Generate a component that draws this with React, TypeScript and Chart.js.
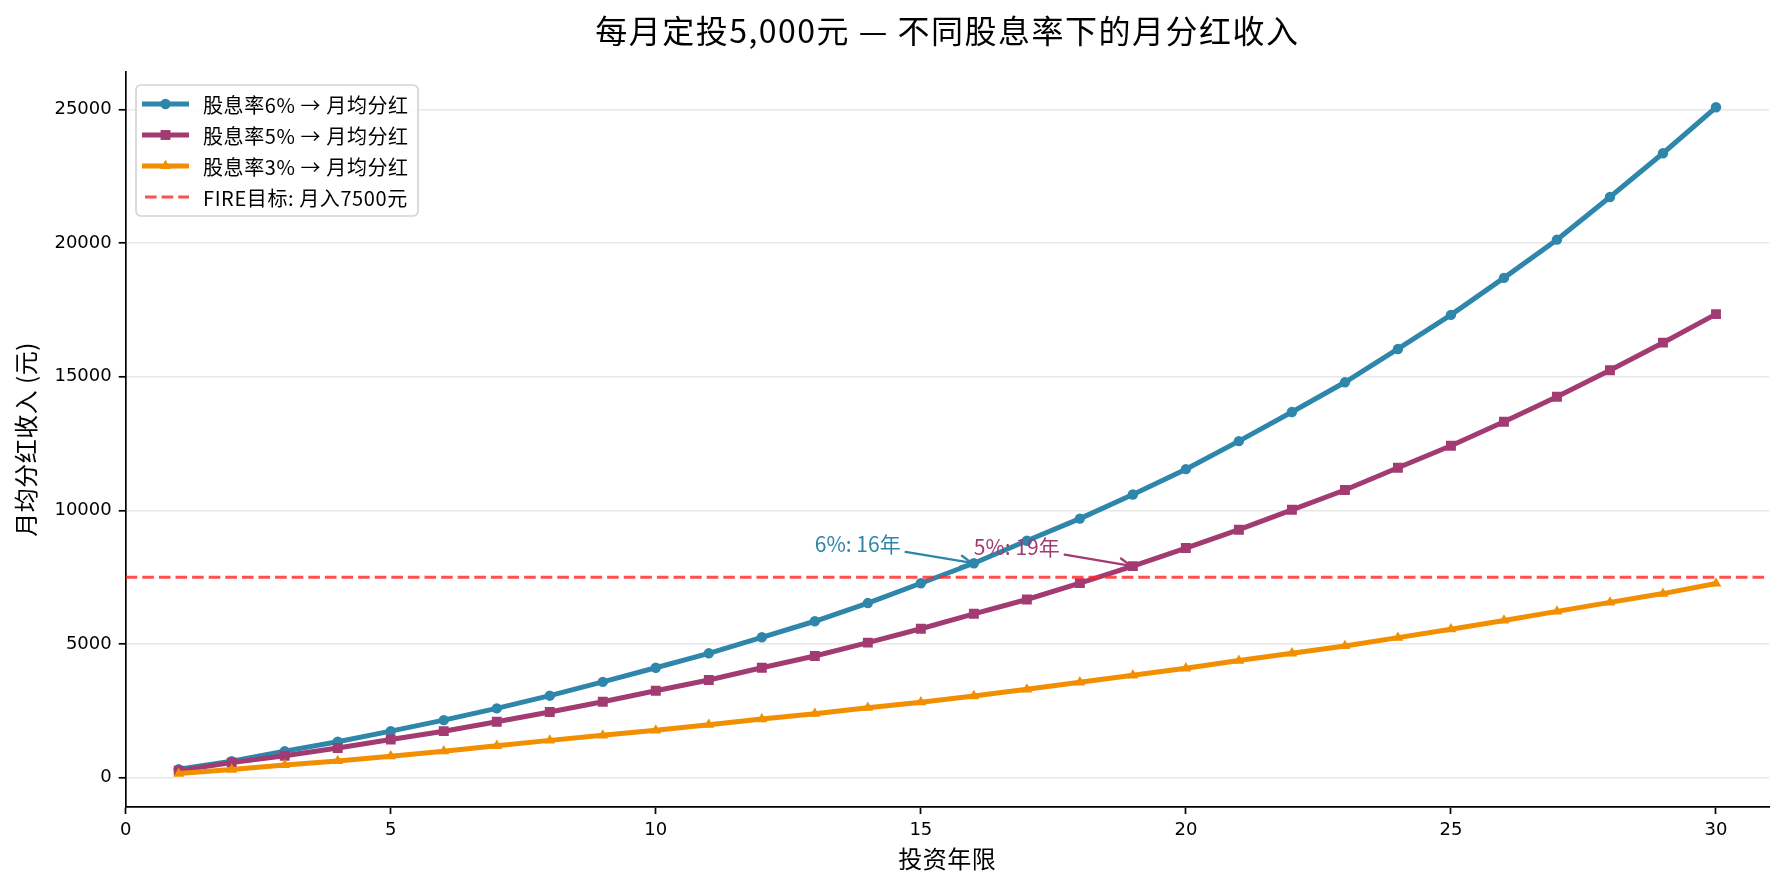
import React, { useEffect, useRef } from "react";
import { Chart, registerables } from "chart.js";

Chart.register(...registerables);

// ---------------- data ----------------
const years = [1, 2, 3, 4, 5, 6, 7, 8, 9, 10, 11, 12, 13, 14, 15, 16, 17, 18, 19, 20, 21, 22, 23, 24, 25, 26, 27, 28, 29, 30];
const div6 = [310, 615, 990, 1340, 1740, 2150, 2590, 3065, 3580, 4110, 4650, 5250, 5850, 6530, 7272, 8018, 8860, 9690, 10592, 11540, 12590, 13680, 14790, 16037, 17311, 18697, 20127, 21723, 23360, 25080];
const div5 = [260, 560, 815, 1110, 1425, 1737, 2088, 2453, 2838, 3250, 3651, 4112, 4551, 5050, 5569, 6128, 6664, 7275, 7913, 8588, 9276, 10020, 10760, 11592, 12416, 13315, 14251, 15240, 16273, 17341];
const div3 = [150, 300, 473, 623, 799, 986, 1190, 1393, 1581, 1768, 1978, 2191, 2390, 2614, 2820, 3051, 3302, 3565, 3827, 4089, 4378, 4650, 4925, 5238, 5551, 5879, 6218, 6557, 6885, 7262];
const fireTarget = 7500;
const seriesLabels = ["股息率6% → 月均分红", "股息率5% → 月均分红", "股息率3% → 月均分红"];
const fireLabel = "FIRE目标: 月入7500元";
const xTicks = [0, 5, 10, 15, 20, 25, 30];
const yTicks = [0, 5000, 10000, 15000, 20000, 25000];
const annotationYears = [16, 19];
const annotationTexts = ["6%: 16年", "5%: 19年"];
const titleText = "每月定投5,000元 — 不同股息率下的月分红收入";
const xLabel = "投资年限";
const yLabel = "月均分红收入 (元)";

// ---------------- styles ----------------
const W = 1784;
const H = 886;
const COLORS = ["#2E86AB", "#A23B72", "#F18F01"];
const FIRE_COLOR = "rgba(255,40,40,0.82)";
const CJK = '"Noto Sans CJK SC", "Noto Sans", sans-serif';
const TICKF = '"DejaVu Sans", sans-serif';
const POINT_STYLES = ["circle", "rect", "triangle"];
const POINT_R = [5.2, 7, 6.2];

function drawMarker(ctx, style, x, y, r, color) {
  ctx.save();
  ctx.fillStyle = color;
  ctx.beginPath();
  if (style === "circle") {
    ctx.arc(x, y, r, 0, Math.PI * 2);
  } else if (style === "rect") {
    const s = r * Math.SQRT1_2;
    ctx.rect(x - s, y - s, 2 * s, 2 * s);
  } else {
    for (let i = 0; i < 3; i++) {
      const a = (i * 2 * Math.PI) / 3;
      const px = x + Math.sin(a) * r;
      const py = y - Math.cos(a) * r;
      if (i === 0) ctx.moveTo(px, py);
      else ctx.lineTo(px, py);
    }
    ctx.closePath();
  }
  ctx.fill();
  ctx.restore();
}

function setSpacing(ctx, px) {
  try {
    (ctx as any).letterSpacing = px + "px";
  } catch (e) {}
}

const decorPlugin = {
  id: "decor",
  afterDraw(chart) {
    const ctx = chart.ctx;
    const { left, right, top, bottom } = chart.chartArea;
    const xs = chart.scales.x;
    const ys = chart.scales.y;
    ctx.save();

    // title
    ctx.fillStyle = "#000";
    ctx.textAlign = "center";
    ctx.textBaseline = "middle";
    ctx.font = `32px ${CJK}`;
    setSpacing(ctx, 1.5);
    ctx.fillText(titleText, (left + right) / 2, 31);
    setSpacing(ctx, 0);

    // axis labels
    ctx.font = `24px ${CJK}`;
    setSpacing(ctx, 0.5);
    ctx.fillText(xLabel, (left + right) / 2, 859);
    ctx.save();
    ctx.translate(26, (top + bottom) / 2);
    ctx.rotate(-Math.PI / 2);
    ctx.fillText(yLabel, 0, 0);
    ctx.restore();
    setSpacing(ctx, 0);

    // annotations
    const annSeries = [div6, div5];
    ctx.font = `21px ${CJK}`;
    ctx.textAlign = "left";
    ctx.textBaseline = "middle";
    annotationYears.forEach((yr, i) => {
      const idx = years.indexOf(yr);
      const val = annSeries[i][idx];
      const color = COLORS[i];
      const px = xs.getPixelForValue(yr);
      const py = ys.getPixelForValue(val);
      const tx = xs.getPixelForValue(yr - 3);
      const ty = ys.getPixelForValue(val + 730);
      ctx.fillStyle = color;
      ctx.fillText(annotationTexts[i], tx, ty);
      const tw = ctx.measureText(annotationTexts[i]).width;
      const cx = tx + tw / 2;
      const cy = ty;
      const hw = tw / 2 + 2;
      const hh = 10;
      const dx = px - cx;
      const dy = py - cy;
      let t = Infinity;
      if (dx !== 0) t = Math.min(t, hw / Math.abs(dx));
      if (dy !== 0) t = Math.min(t, hh / Math.abs(dy));
      const len = Math.hypot(dx, dy);
      const ux = dx / len;
      const uy = dy / len;
      const sx = cx + dx * t + ux * 3;
      const sy = cy + dy * t + uy * 3;
      const ex = px - ux * 2;
      const ey = py - uy * 2;
      ctx.strokeStyle = color;
      ctx.lineWidth = 2.3;
      ctx.lineCap = "round";
      ctx.beginPath();
      ctx.moveTo(sx, sy);
      ctx.lineTo(ex, ey);
      ctx.stroke();
      const hl = 11;
      const hwd = 5.5;
      ctx.beginPath();
      ctx.moveTo(ex - ux * hl - uy * hwd, ey - uy * hl + ux * hwd);
      ctx.lineTo(ex, ey);
      ctx.lineTo(ex - ux * hl + uy * hwd, ey - uy * hl - ux * hwd);
      ctx.stroke();
    });

    // legend
    const bx = 136, by = 85, bw = 282, bh = 131, br = 5;
    ctx.beginPath();
    ctx.moveTo(bx + br, by);
    ctx.lineTo(bx + bw - br, by);
    ctx.arcTo(bx + bw, by, bx + bw, by + br, br);
    ctx.lineTo(bx + bw, by + bh - br);
    ctx.arcTo(bx + bw, by + bh, bx + bw - br, by + bh, br);
    ctx.lineTo(bx + br, by + bh);
    ctx.arcTo(bx, by + bh, bx, by + bh - br, br);
    ctx.lineTo(bx, by + br);
    ctx.arcTo(bx, by, bx + br, by, br);
    ctx.closePath();
    ctx.fillStyle = "rgba(255,255,255,0.85)";
    ctx.fill();
    ctx.strokeStyle = "#d4d4d4";
    ctx.lineWidth = 1.7;
    ctx.stroke();

    const rows = [104, 135, 166, 197];
    const lx0 = 142, lx1 = 189, textX = 203;
    ctx.font = `20px ${CJK}`;
    setSpacing(ctx, 0.6);
    ctx.textAlign = "left";
    ctx.textBaseline = "middle";
    ctx.lineCap = "butt";
    for (let i = 0; i < 3; i++) {
      ctx.strokeStyle = COLORS[i];
      ctx.lineWidth = 5;
      ctx.beginPath();
      ctx.moveTo(lx0, rows[i]);
      ctx.lineTo(lx1, rows[i]);
      ctx.stroke();
      drawMarker(ctx, POINT_STYLES[i], (lx0 + lx1) / 2, rows[i], POINT_R[i], COLORS[i]);
      ctx.fillStyle = "#000";
      ctx.fillText(seriesLabels[i], textX, rows[i] + 1);
    }
    ctx.strokeStyle = FIRE_COLOR;
    ctx.lineWidth = 3;
    ctx.setLineDash([11.6, 5]);
    ctx.beginPath();
    ctx.moveTo(lx0 + 3, rows[3]);
    ctx.lineTo(lx1, rows[3]);
    ctx.stroke();
    ctx.setLineDash([]);
    ctx.fillStyle = "#000";
    ctx.fillText(fireLabel, textX, rows[3] + 1);
    setSpacing(ctx, 0);

    ctx.restore();
  },
};

export default function App() {
  const ref = useRef(null);

  useEffect(() => {
    const canvas = ref.current;
    if (!canvas) return;
    const series = [div6, div5, div3];
    const datasets = series.map((arr, i) => ({
      label: seriesLabels[i],
      data: years.map((yr, j) => ({ x: yr, y: arr[j] })),
      borderColor: COLORS[i],
      backgroundColor: COLORS[i],
      borderWidth: 5,
      pointStyle: POINT_STYLES[i],
      pointRadius: POINT_R[i],
      pointBorderWidth: 0,
      pointBackgroundColor: COLORS[i],
      tension: 0,
      order: 3 - i,
    }));
    datasets.push({
      label: fireLabel,
      data: [
        { x: 0, y: fireTarget },
        { x: 31, y: fireTarget },
      ],
      borderColor: FIRE_COLOR,
      backgroundColor: FIRE_COLOR,
      borderWidth: 3,
      borderDash: [11.6, 5],
      pointRadius: 0,
      tension: 0,
      order: 0,
    } as any);

    const chart = new Chart(canvas, {
      type: "line",
      data: { datasets },
      options: {
        responsive: false,
        animation: false,
        devicePixelRatio: 1,
        events: [],
        layout: { padding: { top: 72, right: 15, left: 0, bottom: 0 } },
        plugins: {
          legend: { display: false },
          title: { display: false },
          tooltip: { enabled: false },
        },
        scales: {
          x: {
            type: "linear",
            min: 0,
            max: 31,
            afterBuildTicks: (scale) => {
              scale.ticks = xTicks.map((v) => ({ value: v }));
            },
            afterFit: (scale) => {
              scale.height = 79;
            },
            ticks: {
              autoSkip: false,
              maxRotation: 0,
              padding: 6,
              color: "#000",
              font: { family: TICKF, size: 18 },
              callback: (v) => String(v),
            },
            grid: {
              display: true,
              drawOnChartArea: false,
              drawTicks: true,
              tickLength: 7,
              tickColor: "#000",
              tickWidth: 1.7,
            },
            border: { display: true, color: "#000", width: 1.7 },
          },
          y: {
            type: "linear",
            min: -1100,
            max: 26400,
            afterBuildTicks: (scale) => {
              scale.ticks = yTicks.map((v) => ({ value: v }));
            },
            afterFit: (scale) => {
              scale.width = 125.7;
            },
            ticks: {
              autoSkip: false,
              padding: 7,
              color: "#000",
              font: { family: TICKF, size: 18 },
              callback: (v) => String(v),
            },
            grid: {
              display: true,
              drawOnChartArea: true,
              drawTicks: true,
              tickLength: 7,
              color: "#e8e8e8",
              lineWidth: 1.6,
              tickColor: "#000",
              tickWidth: 1.7,
            },
            border: { display: true, color: "#000", width: 1.7 },
          },
        },
      },
      plugins: [decorPlugin],
    } as any);

    return () => chart.destroy();
  }, []);

  return (
    <div style={{ position: "fixed", left: 0, top: 0, width: W, height: H, background: "#fff" }}>
      <canvas ref={ref} width={W} height={H} style={{ display: "block", width: W, height: H }} />
    </div>
  );
}
